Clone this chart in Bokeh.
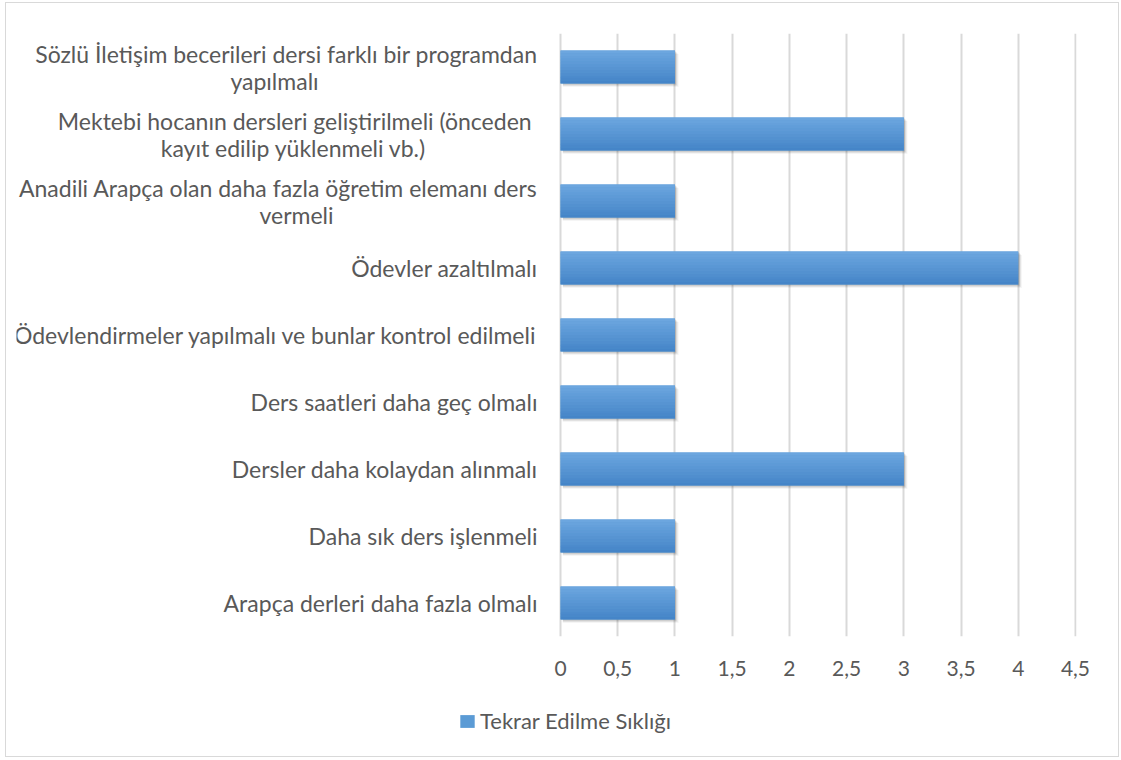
from bokeh.plotting import figure
from bokeh.layouts import column
from bokeh.models import FixedTicker, Legend, LegendItem, ColumnDataSource
from bokeh.embed import file_html
from bokeh.resources import INLINE

# ---- data ----
categories = [
    ["Sözlü İletişim becerileri dersi farklı bir programdan", "yapılmalı"],
    ["Mektebi hocanın dersleri geliştirilmeli  (önceden", "kayıt edilip yüklenmeli vb.)"],
    ["Anadili Arapça olan daha fazla öğretim elemanı ders", "vermeli"],
    ["Ödevler azaltılmalı"],
    ["Ödevlendirmeler yapılmalı ve bunlar kontrol edilmeli"],
    ["Ders saatleri daha geç olmalı"],
    ["Dersler daha kolaydan alınmalı"],
    ["Daha sık ders işlenmeli"],
    ["Arapça derleri daha fazla olmalı"],
]
values = [1, 3, 1, 4, 1, 1, 3, 1, 1]
series_name = "Tekrar Edilme Sıklığı"
x_ticks = [0, 0.5, 1, 1.5, 2, 2.5, 3, 3.5, 4, 4.5]

# ---- layout (pixels) ----
FONT = "Lato"
TXT = "#595959"
OX, OY = 6, 3                        # page position of content
W = 1112
H1 = 690 - OY
H2 = 756 - 690
MB_L, MB_R, MB_T = 16 - OX, 1117 - 1075, 33 - OY
MB_B = H1 - (636 - OY)
PPU = 515 / 4.5
frame_w = W - MB_L - MB_R
x_start = -(560 - 16) / PPU
x_end = x_start + frame_w / PPU
LABEL_RIGHT = 537 - 560
second_line_center = {0: 274 - 560, 1: 293 - 560, 2: 296 - 560}
LINE_OFF = 13.5
CAT_FS = "23px"

n = len(categories)
ypos = [n - 1 - i for i in range(n)]

p = figure(width=W, height=H1, output_backend="svg", toolbar_location=None,
           x_range=(x_start, x_end), y_range=(-0.5, n - 0.5),
           min_border_left=MB_L, min_border_right=MB_R,
           min_border_top=MB_T, min_border_bottom=MB_B)
p.outline_line_color = None
p.yaxis.visible = False

src = ColumnDataSource(dict(y=ypos, v=values))
bh = 0.49

# soft shadow
for k, a in [(1, 0.10), (2, 0.08), (3, 0.06), (4, 0.04)]:
    p.hbar(y=[yy - 0.013 * k for yy in ypos], right=[vv + 0.008 * k for vv in values],
           left=0.02, height=bh, fill_color="#000000", fill_alpha=a, line_color=None)

p.hbar(y="y", right="v", left=0, height=bh, source=src,
       fill_color="#5B9BD5", line_color=None)

# vertical gradient strips
nstrip = 12
top_c = (0x6C, 0xA6, 0xDF)
bot_c = (0x45, 0x85, 0xC8)
sh = bh / nstrip
for s in range(nstrip):
    t = s / (nstrip - 1)
    c = tuple(int(round(top_c[j] + (bot_c[j] - top_c[j]) * t)) for j in range(3))
    col = "#%02x%02x%02x" % c
    ys = [yy + bh / 2 - sh * (s + 0.5) for yy in ypos]
    p.hbar(y=ys, right=values, left=0, height=sh * 1.05, fill_color=col, line_color=None)

# category labels
for i, lines in enumerate(categories):
    if len(lines) == 1:
        p.text(x=[LABEL_RIGHT / PPU], y=[ypos[i]], text=[lines[0]],
               text_align="right", text_baseline="middle",
               text_font={"value": FONT}, text_font_size=CAT_FS, text_color=TXT)
    else:
        p.text(x=[LABEL_RIGHT / PPU], y=[ypos[i]], text=[lines[0]], y_offset=-LINE_OFF,
               text_align="right", text_baseline="middle",
               text_font={"value": FONT}, text_font_size=CAT_FS, text_color=TXT)
        p.text(x=[second_line_center[i] / PPU], y=[ypos[i]], text=[lines[1]], y_offset=LINE_OFF,
               text_align="center", text_baseline="middle",
               text_font={"value": FONT}, text_font_size=CAT_FS, text_color=TXT)

# x axis
p.xaxis.ticker = FixedTicker(ticks=x_ticks)
p.xaxis.major_label_overrides = {t: (str(t).replace(".", ",") if t != int(t) else str(int(t))) for t in x_ticks}
p.xaxis.axis_line_color = None
p.xaxis.major_tick_line_color = None
p.xaxis.minor_tick_line_color = None
p.xaxis.major_label_text_font = FONT
p.xaxis.major_label_text_font_size = "21px"
p.xaxis.major_label_text_color = TXT
p.xaxis.major_label_standoff = 18

p.xgrid.ticker = FixedTicker(ticks=x_ticks)
p.xgrid.grid_line_color = "#d9d9d9"
p.xgrid.grid_line_width = 2
p.ygrid.grid_line_color = None

# ---- legend strip ----
p2 = figure(width=W, height=H2, output_backend="svg", toolbar_location=None,
            x_range=(0, W), y_range=(0, H2),
            min_border_left=0, min_border_right=0, min_border_top=0, min_border_bottom=0)
p2.outline_line_color = None
p2.axis.visible = False
p2.grid.visible = False
# series renderer for the legend key (its bar lies outside this strip's view)
leg_r = p2.hbar(y=[-1000], right=[values[0]], left=0, height=1,
                fill_color="#5B9BD5", line_color=None)
legend = Legend(items=[LegendItem(label=series_name, renderers=[leg_r])],
                location=(448 - OX, 22), orientation="horizontal",
                label_text_font=FONT, label_text_font_size="22px", label_text_color=TXT,
                glyph_width=18, glyph_height=16, padding=0, margin=0, spacing=0,
                label_standoff=4, background_fill_alpha=0, border_line_color=None)
p2.add_layout(legend)

layout = column(p, p2, spacing=0,
                styles={"border": "1px solid #d9d9d9", "margin-left": "5px", "margin-top": "2px"})

open("out.html", "w").write(file_html(layout, INLINE))
